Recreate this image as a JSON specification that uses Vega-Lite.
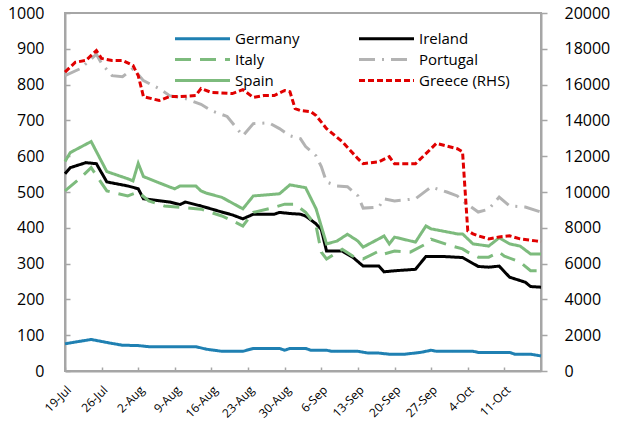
{
  "$schema": "https://vega.github.io/schema/vega-lite/v6.json",
  "width": 476,
  "height": 358,
  "padding": {"left": 7, "top": 5, "right": 5, "bottom": 5},
  "background": "white",
  "config": {
    "font": "Open Sans",
    "view": {"stroke": "#a6a6a6", "strokeWidth": 2},
    "axis": {"grid": false, "domainColor": "#a6a6a6", "domainWidth": 2, "tickColor": "#a6a6a6", "tickWidth": 1.5, "labelColor": "#000000", "title": null}
  },
  "datasets": {
    "main": [
      {"date": "2010-07-19", "series": "Germany", "value": 76},
      {"date": "2010-07-21", "series": "Germany", "value": 81},
      {"date": "2010-07-24", "series": "Germany", "value": 88},
      {"date": "2010-07-28", "series": "Germany", "value": 77},
      {"date": "2010-07-30", "series": "Germany", "value": 72},
      {"date": "2010-08-02", "series": "Germany", "value": 71},
      {"date": "2010-08-04", "series": "Germany", "value": 68},
      {"date": "2010-08-13", "series": "Germany", "value": 68},
      {"date": "2010-08-15", "series": "Germany", "value": 61},
      {"date": "2010-08-18", "series": "Germany", "value": 55},
      {"date": "2010-08-22", "series": "Germany", "value": 55},
      {"date": "2010-08-24", "series": "Germany", "value": 63},
      {"date": "2010-08-29", "series": "Germany", "value": 63},
      {"date": "2010-08-30", "series": "Germany", "value": 58},
      {"date": "2010-08-31", "series": "Germany", "value": 63},
      {"date": "2010-09-03", "series": "Germany", "value": 63},
      {"date": "2010-09-04", "series": "Germany", "value": 58},
      {"date": "2010-09-07", "series": "Germany", "value": 58},
      {"date": "2010-09-08", "series": "Germany", "value": 55},
      {"date": "2010-09-13", "series": "Germany", "value": 55},
      {"date": "2010-09-15", "series": "Germany", "value": 50},
      {"date": "2010-09-17", "series": "Germany", "value": 50},
      {"date": "2010-09-19", "series": "Germany", "value": 47},
      {"date": "2010-09-22", "series": "Germany", "value": 47},
      {"date": "2010-09-25", "series": "Germany", "value": 52},
      {"date": "2010-09-27", "series": "Germany", "value": 58},
      {"date": "2010-09-28", "series": "Germany", "value": 55},
      {"date": "2010-10-05", "series": "Germany", "value": 55},
      {"date": "2010-10-06", "series": "Germany", "value": 52},
      {"date": "2010-10-12", "series": "Germany", "value": 52},
      {"date": "2010-10-13", "series": "Germany", "value": 47},
      {"date": "2010-10-16", "series": "Germany", "value": 47},
      {"date": "2010-10-18", "series": "Germany", "value": 42},

      {"date": "2010-07-19", "series": "Ireland", "value": 551},
      {"date": "2010-07-20", "series": "Ireland", "value": 568},
      {"date": "2010-07-23", "series": "Ireland", "value": 582},
      {"date": "2010-07-25", "series": "Ireland", "value": 579},
      {"date": "2010-07-27", "series": "Ireland", "value": 528},
      {"date": "2010-07-31", "series": "Ireland", "value": 517},
      {"date": "2010-08-02", "series": "Ireland", "value": 509},
      {"date": "2010-08-03", "series": "Ireland", "value": 481},
      {"date": "2010-08-08", "series": "Ireland", "value": 472},
      {"date": "2010-08-10", "series": "Ireland", "value": 465},
      {"date": "2010-08-11", "series": "Ireland", "value": 472},
      {"date": "2010-08-14", "series": "Ireland", "value": 461},
      {"date": "2010-08-18", "series": "Ireland", "value": 444},
      {"date": "2010-08-20", "series": "Ireland", "value": 436},
      {"date": "2010-08-22", "series": "Ireland", "value": 425},
      {"date": "2010-08-24", "series": "Ireland", "value": 438},
      {"date": "2010-08-28", "series": "Ireland", "value": 438},
      {"date": "2010-08-29", "series": "Ireland", "value": 443},
      {"date": "2010-08-31", "series": "Ireland", "value": 440},
      {"date": "2010-09-02", "series": "Ireland", "value": 438},
      {"date": "2010-09-03", "series": "Ireland", "value": 433},
      {"date": "2010-09-05", "series": "Ireland", "value": 411},
      {"date": "2010-09-06", "series": "Ireland", "value": 395},
      {"date": "2010-09-07", "series": "Ireland", "value": 335},
      {"date": "2010-09-10", "series": "Ireland", "value": 335},
      {"date": "2010-09-12", "series": "Ireland", "value": 318},
      {"date": "2010-09-14", "series": "Ireland", "value": 293},
      {"date": "2010-09-17", "series": "Ireland", "value": 293},
      {"date": "2010-09-18", "series": "Ireland", "value": 277},
      {"date": "2010-09-20", "series": "Ireland", "value": 280},
      {"date": "2010-09-24", "series": "Ireland", "value": 284},
      {"date": "2010-09-26", "series": "Ireland", "value": 320},
      {"date": "2010-09-29", "series": "Ireland", "value": 320},
      {"date": "2010-10-03", "series": "Ireland", "value": 317},
      {"date": "2010-10-06", "series": "Ireland", "value": 292},
      {"date": "2010-10-08", "series": "Ireland", "value": 290},
      {"date": "2010-10-10", "series": "Ireland", "value": 293},
      {"date": "2010-10-12", "series": "Ireland", "value": 262},
      {"date": "2010-10-15", "series": "Ireland", "value": 248},
      {"date": "2010-10-16", "series": "Ireland", "value": 236},
      {"date": "2010-10-18", "series": "Ireland", "value": 234},

      {"date": "2010-07-19", "series": "Italy", "value": 503},
      {"date": "2010-07-22", "series": "Italy", "value": 540},
      {"date": "2010-07-24", "series": "Italy", "value": 568},
      {"date": "2010-07-27", "series": "Italy", "value": 503},
      {"date": "2010-07-31", "series": "Italy", "value": 489},
      {"date": "2010-08-02", "series": "Italy", "value": 500},
      {"date": "2010-08-04", "series": "Italy", "value": 475},
      {"date": "2010-08-07", "series": "Italy", "value": 461},
      {"date": "2010-08-10", "series": "Italy", "value": 457},
      {"date": "2010-08-14", "series": "Italy", "value": 452},
      {"date": "2010-08-18", "series": "Italy", "value": 433},
      {"date": "2010-08-20", "series": "Italy", "value": 420},
      {"date": "2010-08-22", "series": "Italy", "value": 405},
      {"date": "2010-08-24", "series": "Italy", "value": 443},
      {"date": "2010-08-28", "series": "Italy", "value": 457},
      {"date": "2010-08-30", "series": "Italy", "value": 466},
      {"date": "2010-09-01", "series": "Italy", "value": 466},
      {"date": "2010-09-03", "series": "Italy", "value": 443},
      {"date": "2010-09-05", "series": "Italy", "value": 405},
      {"date": "2010-09-06", "series": "Italy", "value": 332},
      {"date": "2010-09-07", "series": "Italy", "value": 313},
      {"date": "2010-09-10", "series": "Italy", "value": 340},
      {"date": "2010-09-12", "series": "Italy", "value": 321},
      {"date": "2010-09-14", "series": "Italy", "value": 313},
      {"date": "2010-09-17", "series": "Italy", "value": 335},
      {"date": "2010-09-18", "series": "Italy", "value": 327},
      {"date": "2010-09-20", "series": "Italy", "value": 335},
      {"date": "2010-09-23", "series": "Italy", "value": 332},
      {"date": "2010-09-26", "series": "Italy", "value": 355},
      {"date": "2010-09-27", "series": "Italy", "value": 368},
      {"date": "2010-10-01", "series": "Italy", "value": 349},
      {"date": "2010-10-03", "series": "Italy", "value": 341},
      {"date": "2010-10-04", "series": "Italy", "value": 332},
      {"date": "2010-10-06", "series": "Italy", "value": 318},
      {"date": "2010-10-08", "series": "Italy", "value": 318},
      {"date": "2010-10-10", "series": "Italy", "value": 332},
      {"date": "2010-10-11", "series": "Italy", "value": 321},
      {"date": "2010-10-14", "series": "Italy", "value": 304},
      {"date": "2010-10-16", "series": "Italy", "value": 280},
      {"date": "2010-10-18", "series": "Italy", "value": 280},

      {"date": "2010-07-19", "series": "Portugal", "value": 825},
      {"date": "2010-07-22", "series": "Portugal", "value": 845},
      {"date": "2010-07-25", "series": "Portugal", "value": 885},
      {"date": "2010-07-26", "series": "Portugal", "value": 859},
      {"date": "2010-07-28", "series": "Portugal", "value": 825},
      {"date": "2010-07-30", "series": "Portugal", "value": 822},
      {"date": "2010-08-01", "series": "Portugal", "value": 845},
      {"date": "2010-08-03", "series": "Portugal", "value": 811},
      {"date": "2010-08-06", "series": "Portugal", "value": 789},
      {"date": "2010-08-08", "series": "Portugal", "value": 769},
      {"date": "2010-08-11", "series": "Portugal", "value": 761},
      {"date": "2010-08-14", "series": "Portugal", "value": 745},
      {"date": "2010-08-16", "series": "Portugal", "value": 727},
      {"date": "2010-08-19", "series": "Portugal", "value": 711},
      {"date": "2010-08-22", "series": "Portugal", "value": 657},
      {"date": "2010-08-24", "series": "Portugal", "value": 691},
      {"date": "2010-08-27", "series": "Portugal", "value": 693},
      {"date": "2010-08-29", "series": "Portugal", "value": 677},
      {"date": "2010-08-31", "series": "Portugal", "value": 657},
      {"date": "2010-09-02", "series": "Portugal", "value": 649},
      {"date": "2010-09-03", "series": "Portugal", "value": 627},
      {"date": "2010-09-05", "series": "Portugal", "value": 601},
      {"date": "2010-09-06", "series": "Portugal", "value": 571},
      {"date": "2010-09-07", "series": "Portugal", "value": 528},
      {"date": "2010-09-09", "series": "Portugal", "value": 517},
      {"date": "2010-09-11", "series": "Portugal", "value": 515},
      {"date": "2010-09-13", "series": "Portugal", "value": 489},
      {"date": "2010-09-14", "series": "Portugal", "value": 455},
      {"date": "2010-09-17", "series": "Portugal", "value": 458},
      {"date": "2010-09-18", "series": "Portugal", "value": 481},
      {"date": "2010-09-20", "series": "Portugal", "value": 475},
      {"date": "2010-09-24", "series": "Portugal", "value": 481},
      {"date": "2010-09-26", "series": "Portugal", "value": 503},
      {"date": "2010-09-27", "series": "Portugal", "value": 514},
      {"date": "2010-09-30", "series": "Portugal", "value": 500},
      {"date": "2010-10-02", "series": "Portugal", "value": 489},
      {"date": "2010-10-03", "series": "Portugal", "value": 475},
      {"date": "2010-10-06", "series": "Portugal", "value": 444},
      {"date": "2010-10-08", "series": "Portugal", "value": 452},
      {"date": "2010-10-10", "series": "Portugal", "value": 486},
      {"date": "2010-10-12", "series": "Portugal", "value": 461},
      {"date": "2010-10-15", "series": "Portugal", "value": 458},
      {"date": "2010-10-18", "series": "Portugal", "value": 444},

      {"date": "2010-07-19", "series": "Spain", "value": 585},
      {"date": "2010-07-20", "series": "Spain", "value": 610},
      {"date": "2010-07-24", "series": "Spain", "value": 641},
      {"date": "2010-07-27", "series": "Spain", "value": 557},
      {"date": "2010-07-31", "series": "Spain", "value": 537},
      {"date": "2010-08-01", "series": "Spain", "value": 531},
      {"date": "2010-08-02", "series": "Spain", "value": 580},
      {"date": "2010-08-03", "series": "Spain", "value": 543},
      {"date": "2010-08-08", "series": "Spain", "value": 514},
      {"date": "2010-08-09", "series": "Spain", "value": 509},
      {"date": "2010-08-10", "series": "Spain", "value": 517},
      {"date": "2010-08-13", "series": "Spain", "value": 517},
      {"date": "2010-08-14", "series": "Spain", "value": 503},
      {"date": "2010-08-15", "series": "Spain", "value": 497},
      {"date": "2010-08-18", "series": "Spain", "value": 485},
      {"date": "2010-08-22", "series": "Spain", "value": 453},
      {"date": "2010-08-24", "series": "Spain", "value": 489},
      {"date": "2010-08-29", "series": "Spain", "value": 495},
      {"date": "2010-08-31", "series": "Spain", "value": 520},
      {"date": "2010-09-03", "series": "Spain", "value": 512},
      {"date": "2010-09-05", "series": "Spain", "value": 453},
      {"date": "2010-09-07", "series": "Spain", "value": 355},
      {"date": "2010-09-09", "series": "Spain", "value": 363},
      {"date": "2010-09-11", "series": "Spain", "value": 382},
      {"date": "2010-09-13", "series": "Spain", "value": 363},
      {"date": "2010-09-14", "series": "Spain", "value": 346},
      {"date": "2010-09-18", "series": "Spain", "value": 377},
      {"date": "2010-09-19", "series": "Spain", "value": 355},
      {"date": "2010-09-20", "series": "Spain", "value": 374},
      {"date": "2010-09-24", "series": "Spain", "value": 360},
      {"date": "2010-09-26", "series": "Spain", "value": 405},
      {"date": "2010-09-27", "series": "Spain", "value": 397},
      {"date": "2010-10-02", "series": "Spain", "value": 383},
      {"date": "2010-10-03", "series": "Spain", "value": 383},
      {"date": "2010-10-05", "series": "Spain", "value": 355},
      {"date": "2010-10-08", "series": "Spain", "value": 349},
      {"date": "2010-10-10", "series": "Spain", "value": 372},
      {"date": "2010-10-12", "series": "Spain", "value": 355},
      {"date": "2010-10-14", "series": "Spain", "value": 349},
      {"date": "2010-10-16", "series": "Spain", "value": 327},
      {"date": "2010-10-18", "series": "Spain", "value": 327}
    ],
    "greece": [
      {"date": "2010-07-19", "series": "Greece (RHS)", "value": 16700},
      {"date": "2010-07-21", "series": "Greece (RHS)", "value": 17250},
      {"date": "2010-07-23", "series": "Greece (RHS)", "value": 17350},
      {"date": "2010-07-25", "series": "Greece (RHS)", "value": 17900},
      {"date": "2010-07-26", "series": "Greece (RHS)", "value": 17460},
      {"date": "2010-07-28", "series": "Greece (RHS)", "value": 17350},
      {"date": "2010-07-30", "series": "Greece (RHS)", "value": 17350},
      {"date": "2010-08-01", "series": "Greece (RHS)", "value": 17070},
      {"date": "2010-08-02", "series": "Greece (RHS)", "value": 16500},
      {"date": "2010-08-03", "series": "Greece (RHS)", "value": 15330},
      {"date": "2010-08-06", "series": "Greece (RHS)", "value": 15110},
      {"date": "2010-08-08", "series": "Greece (RHS)", "value": 15330},
      {"date": "2010-08-10", "series": "Greece (RHS)", "value": 15330},
      {"date": "2010-08-13", "series": "Greece (RHS)", "value": 15390},
      {"date": "2010-08-14", "series": "Greece (RHS)", "value": 15780},
      {"date": "2010-08-16", "series": "Greece (RHS)", "value": 15560},
      {"date": "2010-08-20", "series": "Greece (RHS)", "value": 15500},
      {"date": "2010-08-22", "series": "Greece (RHS)", "value": 15720},
      {"date": "2010-08-24", "series": "Greece (RHS)", "value": 15280},
      {"date": "2010-08-26", "series": "Greece (RHS)", "value": 15390},
      {"date": "2010-08-28", "series": "Greece (RHS)", "value": 15390},
      {"date": "2010-08-30", "series": "Greece (RHS)", "value": 15670},
      {"date": "2010-08-31", "series": "Greece (RHS)", "value": 15600},
      {"date": "2010-09-01", "series": "Greece (RHS)", "value": 14660},
      {"date": "2010-09-02", "series": "Greece (RHS)", "value": 14550},
      {"date": "2010-09-04", "series": "Greece (RHS)", "value": 14490},
      {"date": "2010-09-05", "series": "Greece (RHS)", "value": 14270},
      {"date": "2010-09-07", "series": "Greece (RHS)", "value": 13540},
      {"date": "2010-09-10", "series": "Greece (RHS)", "value": 12810},
      {"date": "2010-09-13", "series": "Greece (RHS)", "value": 11860},
      {"date": "2010-09-14", "series": "Greece (RHS)", "value": 11580},
      {"date": "2010-09-17", "series": "Greece (RHS)", "value": 11690},
      {"date": "2010-09-19", "series": "Greece (RHS)", "value": 11970},
      {"date": "2010-09-20", "series": "Greece (RHS)", "value": 11580},
      {"date": "2010-09-24", "series": "Greece (RHS)", "value": 11580},
      {"date": "2010-09-26", "series": "Greece (RHS)", "value": 12140},
      {"date": "2010-09-28", "series": "Greece (RHS)", "value": 12720},
      {"date": "2010-10-02", "series": "Greece (RHS)", "value": 12420},
      {"date": "2010-10-03", "series": "Greece (RHS)", "value": 12250},
      {"date": "2010-10-04", "series": "Greece (RHS)", "value": 7830},
      {"date": "2010-10-05", "series": "Greece (RHS)", "value": 7660},
      {"date": "2010-10-06", "series": "Greece (RHS)", "value": 7550},
      {"date": "2010-10-08", "series": "Greece (RHS)", "value": 7380},
      {"date": "2010-10-10", "series": "Greece (RHS)", "value": 7490},
      {"date": "2010-10-12", "series": "Greece (RHS)", "value": 7550},
      {"date": "2010-10-14", "series": "Greece (RHS)", "value": 7380},
      {"date": "2010-10-17", "series": "Greece (RHS)", "value": 7270},
      {"date": "2010-10-18", "series": "Greece (RHS)", "value": 7220}
    ]
  },
  "encoding": {
    "x": {
      "field": "date",
      "type": "temporal",
      "scale": {"type": "utc", "domain": [{"year": 2010, "month": 7, "date": 19, "utc": true}, {"year": 2010, "month": 10, "date": 18, "utc": true}]},
      "axis": {
        "format": "%-d-%b",
        "values": [
          {"year": 2010, "month": 7, "date": 19, "utc": true},
          {"year": 2010, "month": 7, "date": 26, "utc": true},
          {"year": 2010, "month": 8, "date": 2, "utc": true},
          {"year": 2010, "month": 8, "date": 9, "utc": true},
          {"year": 2010, "month": 8, "date": 16, "utc": true},
          {"year": 2010, "month": 8, "date": 23, "utc": true},
          {"year": 2010, "month": 8, "date": 30, "utc": true},
          {"year": 2010, "month": 9, "date": 6, "utc": true},
          {"year": 2010, "month": 9, "date": 13, "utc": true},
          {"year": 2010, "month": 9, "date": 20, "utc": true},
          {"year": 2010, "month": 9, "date": 27, "utc": true},
          {"year": 2010, "month": 10, "date": 4, "utc": true},
          {"year": 2010, "month": 10, "date": 11, "utc": true}
        ],
        "labelAngle": -45,
        "labelFontSize": 12,
        "labelPadding": 17,
        "tickSize": -4,
        "labelOverlap": false,
        "labelFlush": false
      }
    },
    "color": {
      "field": "series",
      "type": "nominal",
      "scale": {
        "domain": ["Germany", "Italy", "Spain", "Ireland", "Portugal", "Greece (RHS)"],
        "range": ["#1f80b2", "#7dbb7d", "#7dbb7d", "#000000", "#b3b3b3", "#e00000"]
      },
      "legend": {
        "title": null,
        "orient": "none",
        "legendX": 130,
        "legendY": 18,
        "columns": 2,
        "columnPadding": 53,
        "rowPadding": 5,
        "symbolType": "M-5,0H5",
        "symbolSize": 121,
        "symbolStrokeWidth": 3,
        "labelFontSize": 15,
        "labelColor": "#000000",
        "labelOffset": 25
      }
    },
    "strokeDash": {
      "field": "series",
      "type": "nominal",
      "scale": {
        "domain": ["Germany", "Italy", "Spain", "Ireland", "Portugal", "Greece (RHS)"],
        "range": [[1, 0], [16, 9], [1, 0], [1, 0], [16, 7, 2, 7], [6, 3]]
      },
      "legend": null
    }
  },
  "layer": [
    {
      "data": {"name": "main"},
      "mark": {"type": "line", "strokeWidth": 3},
      "encoding": {
        "y": {
          "field": "value",
          "type": "quantitative",
          "scale": {"domain": [0, 1000]},
          "axis": {"orient": "left", "format": "d", "values": [0, 100, 200, 300, 400, 500, 600, 700, 800, 900, 1000], "labelFontSize": 16, "tickSize": -5, "labelPadding": 26}
        }
      }
    },
    {
      "data": {"name": "greece"},
      "mark": {"type": "line", "strokeWidth": 3},
      "encoding": {
        "y": {
          "field": "value",
          "type": "quantitative",
          "scale": {"domain": [0, 20000]},
          "axis": {"orient": "right", "format": "d", "values": [0, 2000, 4000, 6000, 8000, 10000, 12000, 14000, 16000, 18000, 20000], "labelFontSize": 16, "tickSize": 6, "labelPadding": 17}
        }
      }
    }
  ],
  "resolve": {"scale": {"y": "independent"}}
}
